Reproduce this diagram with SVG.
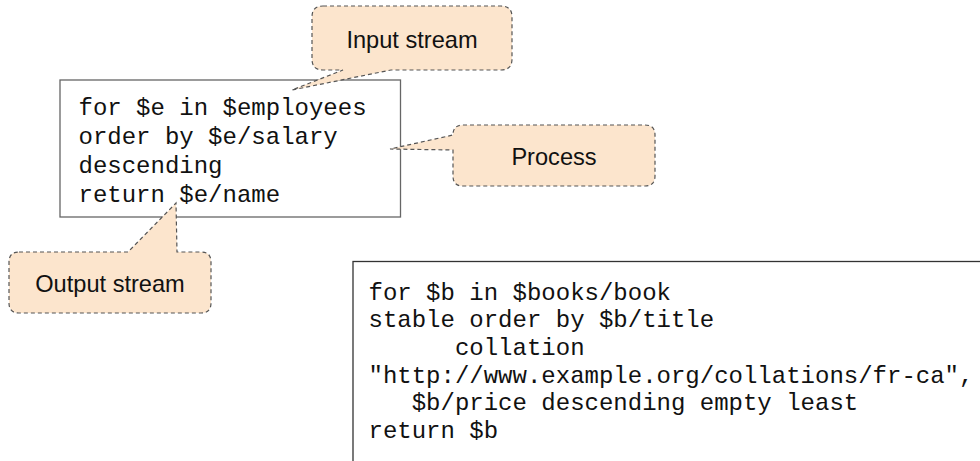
<svg xmlns="http://www.w3.org/2000/svg" width="980" height="461" viewBox="0 0 980 461">
  <style>
    .code { font-family: "Liberation Mono", "DejaVu Sans Mono", monospace; font-size: 24px; fill: #111; white-space: pre; }
    .call { fill: #fce5cd; stroke: #555; stroke-width: 1.2; stroke-dasharray: 4 3; }
    .lbl { font-family: "Liberation Sans", Arial, sans-serif; font-size: 23.6px; fill: #111; text-anchor: middle; }
    .box { fill: #fff; }
  </style>
  <rect width="980" height="461" fill="#fff"/>
  <g id="code-box-1">
    <rect class="box" x="60" y="80" width="340.5" height="137" stroke="#666" stroke-width="1.3"/>
    <text class="code" x="78.5" y="115">for $e in $employees</text>
    <text class="code" x="78.5" y="144">order by $e/salary</text>
    <text class="code" x="78.5" y="172.8">descending</text>
    <text class="code" x="78.5" y="201.7">return $e/name</text>
  </g>
  <g id="code-box-2">
    <rect class="box" x="353" y="261.5" width="700" height="300" stroke="#333" stroke-width="1.3"/>
    <text class="code" x="368.5" y="299.5">for $b in $books/book</text>
    <text class="code" x="368.5" y="327.2">stable order by $b/title</text>
    <text class="code" x="368.5" y="354.9">      collation</text>
    <text class="code" x="368.5" y="382.6">"http://www.example.org/collations/fr-ca",</text>
    <text class="code" x="368.5" y="410.3">   $b/price descending empty least</text>
    <text class="code" x="368.5" y="438">return $b</text>
  </g>
  <g id="callouts">
    <g id="input-stream">
      <path class="call" d="M 323,6 H 501 Q 512,6 512,17 V 59 Q 512,70 501,70 H 391 L 292,90 L 343,70 H 323 Q 312,70 312,59 V 17 Q 312,6 323,6 Z"/>
      <text class="lbl" x="412" y="47.5">Input stream</text>
    </g>
    <g id="process">
      <path class="call" d="M 463,125 H 645 Q 655,125 655,135 V 176 Q 655,186 645,186 H 463 Q 453,186 453,176 V 150 L 390,149 L 453,135 Q 453,125 463,125 Z"/>
      <text class="lbl" x="554" y="164.5">Process</text>
    </g>
    <g id="output-stream">
      <path class="call" d="M 19,252 H 128 L 176,203 L 177,252 H 201 Q 211,252 211,262 V 303 Q 211,313 201,313 H 19 Q 9,313 9,303 V 262 Q 9,252 19,252 Z"/>
      <text class="lbl" x="110" y="292">Output stream</text>
    </g>
  </g>
</svg>
